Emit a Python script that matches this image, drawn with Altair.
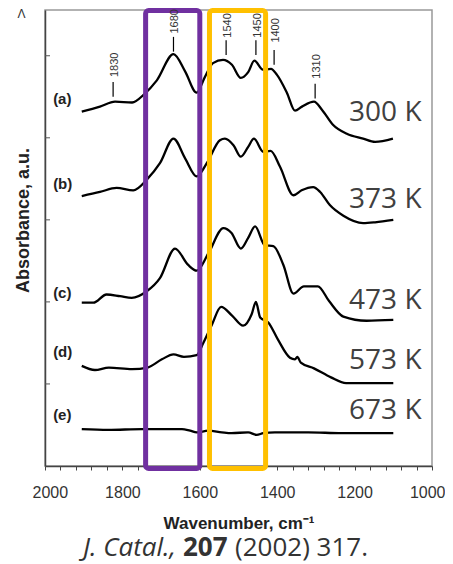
import altair as alt
import pandas as pd

# ---------------- data ----------------
# IR spectra: wavenumber (cm-1) and offset absorbance (a.u.)
wn_a = [1905, 1858, 1819, 1775, 1744, 1711, 1668, 1638, 1608, 1587, 1566, 1540, 1517, 1494, 1475,
        1459, 1437, 1416, 1401, 1375, 1354, 1336, 1305, 1284, 1256, 1220, 1178, 1147, 1101]
ab_a = [4.32, 4.38, 4.44, 4.43, 4.53, 4.70, 5.02, 4.81, 4.55, 4.74, 4.91, 4.95, 4.89, 4.73, 4.80,
        4.94, 4.83, 4.84, 4.77, 4.55, 4.33, 4.38, 4.44, 4.34, 4.16, 4.05, 3.99, 3.95, 3.99]

wn_b = [1905, 1858, 1815, 1772, 1737, 1703, 1668, 1638, 1608, 1582, 1548, 1535, 1513, 1494, 1475,
        1460, 1436, 1417, 1393, 1358, 1337, 1307, 1289, 1264, 1229, 1178, 1147, 1100]
ab_b = [3.29, 3.34, 3.39, 3.36, 3.49, 3.69, 3.99, 3.75, 3.53, 3.69, 3.97, 3.99, 3.91, 3.77, 3.89,
        3.99, 3.83, 3.84, 3.65, 3.30, 3.36, 3.40, 3.34, 3.18, 3.05, 2.96, 2.97, 3.00]

wn_c = [1905, 1875, 1841, 1806, 1776, 1737, 1703, 1664, 1630, 1608, 1578, 1539, 1518, 1494, 1475,
        1457, 1432, 1410, 1384, 1358, 1331, 1295, 1266, 1229, 1169, 1100]
ab_c = [1.99, 1.99, 2.09, 2.07, 2.05, 2.13, 2.29, 2.65, 2.45, 2.38, 2.59, 2.90, 2.84, 2.65, 2.78,
        2.92, 2.69, 2.68, 2.45, 2.10, 2.19, 2.19, 2.01, 1.82, 1.77, 1.78]

wn_d = [1905, 1871, 1835, 1775, 1735, 1698, 1668, 1641, 1608, 1591, 1569, 1545, 1516, 1488, 1466,
        1455, 1444, 1423, 1398, 1367, 1354, 1348, 1339, 1305, 1261, 1222, 1100]
ab_d = [1.22, 1.17, 1.20, 1.18, 1.20, 1.30, 1.36, 1.33, 1.35, 1.50, 1.72, 1.94, 1.83, 1.71, 1.85,
        2.00, 1.81, 1.75, 1.54, 1.32, 1.30, 1.33, 1.26, 1.19, 1.08, 1.01, 1.01]

wn_e = [1905, 1837, 1749, 1646, 1625, 1608, 1578, 1543, 1518, 1475, 1453, 1436, 1406, 1320, 1233, 1100]
ab_e = [0.45, 0.44, 0.45, 0.45, 0.43, 0.41, 0.43, 0.41, 0.40, 0.41, 0.38, 0.40, 0.41, 0.41, 0.40, 0.40]

spectrum_ids = ["a", "b", "c", "d", "e"]
spectrum_labels = ["(a)", "(b)", "(c)", "(d)", "(e)"]
spectrum_label_wn = [1979, 1979, 1979, 1979, 1979]
spectrum_label_y = [4.47, 3.44, 2.11, 1.39, 0.62]

temp_labels = ["300 K", "373 K", "473 K", "573 K", "673 K"]
temp_wn = [1027, 1027, 1027, 1027, 1027]
temp_y = [4.20, 3.14, 1.91, 1.18, 0.57]

peak_labels = ["1830", "1680", "1540", "1450", "1400", "1310"]
peak_wn = [1824, 1668, 1532, 1455, 1408, 1302]
peak_line_top = [4.68, 5.23, 5.19, 5.19, 5.07, 4.66]
peak_line_bottom = [4.50, 5.05, 5.01, 5.01, 4.89, 4.48]
peak_text_y = [4.74, 5.27, 5.22, 5.22, 5.16, 4.72]

box_start = [1740, 1575]
box_end = [1600, 1430]
box_bottom = [-0.03, -0.03]
box_top = [5.55, 5.55]
box_colors = ["#7030A0", "#FFC000"]

x_tick_values = list(range(1000, 2001, 40))
y_tick_values = [1, 2, 3, 4, 5]
Y_TOP = 5.5576

caption_parts = ["J. Catal.,", "207", "(2002) 317."]

# ---------------- build tables ----------------
rows = []
for sid, wn, ab in zip(spectrum_ids, [wn_a, wn_b, wn_c, wn_d, wn_e], [ab_a, ab_b, ab_c, ab_d, ab_e]):
    assert len(wn) == len(ab)
    for i, (w, v) in enumerate(zip(wn, ab)):
        rows.append({"spectrum": sid, "wn": w, "ab": v, "order": i})
df_curves = pd.DataFrame(rows)

df_boxes = pd.DataFrame({"wn": box_start, "x2": box_end, "ab": box_bottom, "y2": box_top, "color": box_colors})
df_peaks = pd.DataFrame({"wn": peak_wn, "y2": peak_line_top, "ab": peak_line_bottom,
                         "ty": peak_text_y, "label": peak_labels})
df_spec = pd.DataFrame({"wn": spectrum_label_wn, "ab": spectrum_label_y, "label": spectrum_labels})
df_temp = pd.DataFrame({"wn": temp_wn, "ab": temp_y, "label": temp_labels})
df_yt = pd.DataFrame({"ab": y_tick_values})
df_one = pd.DataFrame({"k": [0]})

XS = alt.Scale(domain=[1000, 2000], reverse=True, nice=False, zero=False)
YS = alt.Scale(domain=[0, Y_TOP], nice=False, zero=False)

x_axis = alt.Axis(
    values=x_tick_values, format="d",
    labelExpr="datum.value % 200 == 0 ? datum.label : ''",
    labelOverlap=False, labelFlush=True, labelFlushOffset=13, grid=False,
    tickSize=4, tickColor="#444", tickWidth=1,
    domainColor="#444", domainWidth=1.5,
    labelFont="Liberation Sans", labelFontSize=16, labelColor="#333",
    labelPadding=27, labelBaseline="alphabetic",
    title="Wavenumber, cm⁻¹", titleFont="Liberation Sans", titleFontSize=17,
    titleFontWeight="bold", titleColor="#222", titleY=62, titleBaseline="alphabetic",
)
y_axis = alt.Axis(
    labels=False, ticks=False, grid=False, domain=True,
    domainColor="#444", domainWidth=1.5,
    title="Absorbance, a.u.", titleFont="Liberation Sans", titleFontSize=18,
    titleFontWeight="bold", titleColor="#222", titleAngle=270,
    titleX=-16.7, titleY=210, titleBaseline="alphabetic", titleAlign="center",
)


def X(field="wn"):
    return alt.X(f"{field}:Q", scale=XS, axis=x_axis)


def Y(field="ab"):
    return alt.Y(f"{field}:Q", scale=YS, axis=y_axis)


curves = alt.Chart(df_curves).mark_line(color="black", strokeWidth=2.3, interpolate="monotone").encode(
    x=X(), y=Y(), detail="spectrum:N", order="order:Q",
)

boxes = alt.Chart(df_boxes).mark_rect(fillOpacity=0, strokeWidth=5, cornerRadius=3).encode(
    x=X(), x2="x2:Q", y=Y(), y2="y2:Q",
    stroke=alt.Stroke("color:N", scale=None),
)

peak_rules = alt.Chart(df_peaks).mark_rule(color="black", strokeWidth=1.2).encode(
    x=X(), y=Y(), y2="y2:Q",
)

peak_text = alt.Chart(df_peaks).mark_text(
    angle=270, align="left", baseline="middle", dy=2,
    font="Liberation Sans", fontSize=11, color="#333",
).encode(x=X(), y=Y("ty"), text="label:N")

spec_text = alt.Chart(df_spec).mark_text(
    align="left", baseline="middle", font="Liberation Sans", fontSize=15,
    fontWeight="bold", color="#222",
).encode(x=X(), y=Y(), text="label:N")

temp_text = alt.Chart(df_temp).mark_text(
    align="right", baseline="alphabetic", font="Open Sans", fontSize=28, color="#404040",
).encode(x=X(), y=Y(), text="label:N")

y_ticks = alt.Chart(df_yt).mark_rule(color="#555", strokeWidth=1).encode(
    y=Y(), x=alt.value(0), x2=alt.value(5),
)

arrow_head = alt.Chart(df_one).mark_text(
    text="Λ", font="Liberation Sans", fontSize=12, color="#333", baseline="middle", align="center",
).encode(x=alt.value(-23.5), y=alt.value(4))

cap_style = dict(font="Open Sans", fontSize=26, color="#333", baseline="alphabetic")
cap1 = alt.Chart(df_one).mark_text(text=caption_parts[0], fontStyle="italic", align="right", **cap_style).encode(
    x=alt.value(131), y=alt.value(546))
cap2 = alt.Chart(df_one).mark_text(text=caption_parts[1], fontWeight="bold", align="left", **cap_style).encode(
    x=alt.value(138), y=alt.value(546))
cap3 = alt.Chart(df_one).mark_text(text=caption_parts[2], align="left", **cap_style).encode(
    x=alt.value(190), y=alt.value(546))

chart = alt.layer(
    curves, boxes, peak_rules, peak_text, spec_text, temp_text, y_ticks, arrow_head, cap1, cap2, cap3
).properties(
    width=387, height=456,
    padding={"left": 37, "top": 2, "right": 13, "bottom": 98},
    autosize=alt.AutoSizeParams(type="none"),
).configure_view(stroke="#999", strokeWidth=1.5)

chart.save("out.html", embed_options={"renderer": "svg", "actions": False})
